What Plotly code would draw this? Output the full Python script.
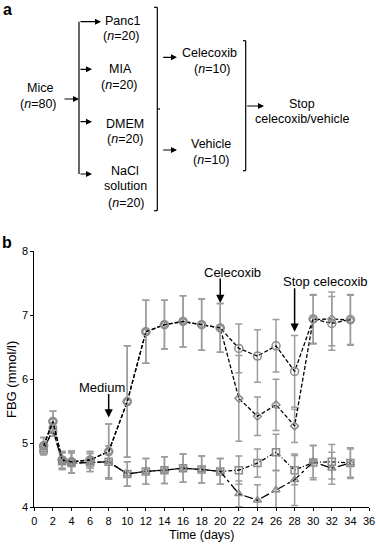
import plotly.graph_objects as go

W, H = 376, 544

# ---------------- data (panel b) ----------------
days = [1, 2, 3, 4, 6, 8, 10, 12, 14, 16, 18, 20, 22, 24, 26, 28, 30, 32, 34]

tumor_vehicle = [4.96, 5.34, 4.74, 4.71, 4.74, 4.87, 5.65, 6.74, 6.85, 6.90, 6.85, 6.80,
                 6.48, 6.36, 6.52, 6.12, 6.94, 6.87, 6.93]
tumor_vehicle_err = [0.13, 0.16, 0.13, 0.17, 0.13, 0.43, 0.87, 0.49, 0.38, 0.40, 0.40, 0.38,
                     0.38, 0.41, 0.41, 0.56, 0.38, 0.42, 0.39]

tumor_celecoxib = [4.96, 5.34, 4.74, 4.71, 4.74, 4.87, 5.65, 6.74, 6.85, 6.90, 6.85, 6.80,
                   5.70, 5.42, 5.60, 5.27, 6.93, 6.94, 6.92]
tumor_celecoxib_err = [0.13, 0.16, 0.13, 0.17, 0.13, 0.43, 0.87, 0.49, 0.38, 0.40, 0.40, 0.38,
                       0.67, 0.30, 0.40, 0.26, 0.38, 0.42, 0.39]

control_vehicle = [4.90, 5.21, 4.72, 4.69, 4.70, 4.71, 4.52, 4.56, 4.58, 4.61, 4.59, 4.56,
                   4.58, 4.69, 4.86, 4.58, 4.70, 4.71, 4.69]
control_vehicle_err = [0.08, 0.10, 0.13, 0.16, 0.14, 0.25, 0.19, 0.20, 0.21, 0.22, 0.21, 0.20,
                       0.22, 0.22, 0.28, 0.23, 0.27, 0.27, 0.24]

control_celecoxib = [4.90, 5.21, 4.72, 4.69, 4.70, 4.71, 4.52, 4.56, 4.58, 4.61, 4.59, 4.56,
                     4.21, 4.11, 4.27, 4.43, 4.71, 4.61, 4.69]
control_celecoxib_err = [0.08, 0.10, 0.13, 0.16, 0.14, 0.25, 0.19, 0.20, 0.21, 0.22, 0.21, 0.20,
                         0.20, 0.24, 0.30, 0.40, 0.25, 0.25, 0.22]

x_ticks = list(range(0, 37, 2))
y_ticks = [4, 5, 6, 7, 8]

# event markers: (label, day, y of arrow head, arrow length px)
events = [("Medium", 8, 5.40, 25),
          ("Celecoxib", 20, 7.19, 26),
          ("Stop celecoxib", 28, 6.74, 45)]
# label positions in pixels (centre x, centre y)
event_label_px = [(101.7, 387), (232, 272), (325, 281)]

FONT = "Liberation Sans, Arial, Helvetica, sans-serif"
MARK = "#8a8a8a"
ERR = "#9c9c9c"

fig = go.Figure()

series = [
    (control_vehicle, control_vehicle_err, "square-open", "4px,2px,1px,2px", 7),
    (control_celecoxib, control_celecoxib_err, "triangle-up-open", "dashdot", 7),
    (tumor_celecoxib, tumor_celecoxib_err, "diamond-open", "4px,2px", 6),
    (tumor_vehicle, tumor_vehicle_err, "circle-open", "4px,2px", 8),
]
for yv, ev, sym, dash, sz in series:
    fig.add_trace(go.Scatter(
        x=days, y=yv, mode="lines+markers", showlegend=False,
        line=dict(color="black", width=1.3, dash=dash),
        marker=dict(symbol=sym, size=sz, color=MARK, line=dict(width=1.5, color=MARK)),
        error_y=dict(type="data", array=ev, color=ERR, thickness=1.5, width=3.5),
    ))

annotations = []
shapes = []


def px(x, y):
    return x / W, 1 - y / H


# event arrows on panel b
for (label, d, yh, alen), (lx, ly) in zip(events, event_label_px):
    annotations.append(dict(x=d, y=yh, xref="x", yref="y", text="", showarrow=True,
                            ax=0, ay=-alen,
                            arrowhead=2, arrowsize=1.1, arrowwidth=1.5, arrowcolor="black",
                            standoff=0))
    tx, ty = px(lx, ly)
    annotations.append(dict(x=tx, y=ty, xref="paper", yref="paper", text=label, showarrow=False,
                            font=dict(size=13, color="black", family=FONT),
                            xanchor="center", yanchor="middle"))

# axis titles
tx, ty = px(202, 535)
annotations.append(dict(x=tx, y=ty, xref="paper", yref="paper", text="Time (days)",
                        showarrow=False, font=dict(size=12.5, family=FONT, color="black"),
                        xanchor="center", yanchor="middle"))
tx, ty = px(11, 380)
annotations.append(dict(x=tx, y=ty, xref="paper", yref="paper", text="FBG (mmol/l)",
                        showarrow=False, textangle=-90,
                        font=dict(size=13, family=FONT, color="black"),
                        xanchor="center", yanchor="middle"))

# panel letters
for letter, (lx, ly) in [("a", (7, 9)), ("b", (7, 242))]:
    tx, ty = px(lx, ly)
    annotations.append(dict(x=tx, y=ty, xref="paper", yref="paper", text=f"<b>{letter}</b>",
                            showarrow=False, font=dict(size=16, family=FONT, color="black"),
                            xanchor="center", yanchor="middle"))

# ---------------- panel a: flow chart ----------------
texts = [
    ("Mice", 40, 88), ("(<i>n</i>=80)", 38.5, 104),
    ("Panc1", 122, 20.5), ("(<i>n</i>=20)", 121.5, 36),
    ("MIA", 120, 69.5), ("(<i>n</i>=20)", 119.5, 85),
    ("DMEM", 125.5, 124), ("(<i>n</i>=20)", 125, 139.5),
    ("NaCl", 125, 171), ("solution", 125.5, 186.5), ("(<i>n</i>=20)", 126.5, 202.5),
    ("Celecoxib", 209, 52.5), ("(<i>n</i>=10)", 212.5, 68.5),
    ("Vehicle", 211, 144), ("(<i>n</i>=10)", 211, 160),
    ("Stop", 301.5, 104), ("celecoxib/vehicle", 302, 119),
]
for t, x, y in texts:
    tx, ty = px(x, y)
    annotations.append(dict(x=tx, y=ty, xref="paper", yref="paper", text=t, showarrow=False,
                            font=dict(size=12.5, family=FONT, color="black"),
                            xanchor="center", yanchor="middle"))

segments = [
    (79, 21.7, 79, 174),        # branch line
    (154, 7.3, 157.3, 7.3), (157.3, 7.3, 157.3, 210.7), (154, 210.7, 157.3, 210.7),
    (157.3, 109, 160, 109),
    (243, 40.7, 245.7, 40.7), (245.7, 40.7, 245.7, 170.7), (243, 170.7, 245.7, 170.7),
]
for x0, y0, x1, y1 in segments:
    a0, b0 = px(x0, y0)
    a1, b1 = px(x1, y1)
    shapes.append(dict(type="line", xref="paper", yref="paper", x0=a0, y0=b0, x1=a1, y1=b1,
                       line=dict(color="black", width=1.2)))

arrows = [
    (63, 99, 79, 99),
    (79, 21.7, 101, 21.7),
    (79, 69.3, 92, 69.3),
    (79, 121.7, 92, 121.7),
    (79, 174, 92, 174),
    (161.7, 57.3, 177, 57.3),
    (161.7, 150, 177, 150),
    (245.7, 106, 264, 106),
]
for x0, y0, x1, y1 in arrows:
    hx, hy = px(x1, y1)
    annotations.append(dict(x=hx, y=hy, xref="paper", yref="paper", text="", showarrow=True,
                            ax=x0 - x1, ay=y0 - y1, arrowhead=2, arrowsize=1.0,
                            arrowwidth=1.2, arrowcolor="black", standoff=0))

axis_common = dict(showline=True, linecolor="black", linewidth=1, ticks="outside",
                   ticklen=3, tickwidth=1, tickcolor="black", showgrid=False,
                   zeroline=False, automargin=False, ticklabeloverflow="allow",
                   tickfont=dict(size=11, family=FONT, color="black"))

fig.update_layout(
    width=W, height=H, margin=dict(l=0, r=0, t=0, b=0, autoexpand=False),
    paper_bgcolor="white", plot_bgcolor="white",
    xaxis=dict(domain=[34.3 / W, 369.0 / W], range=[0, 36], tickvals=x_ticks, **axis_common),
    yaxis=dict(domain=[1 - 507.3 / H, 1 - 251 / H], range=[4, 8], tickvals=y_ticks, **axis_common),
    annotations=annotations, shapes=shapes,
    font=dict(family=FONT),
)

fig.write_html("out.html", config={"displayModeBar": False, "staticPlot": True},
               post_script="document.body.style.margin='0';document.body.style.padding='0';"
                           "document.body.style.overflow='hidden';")
